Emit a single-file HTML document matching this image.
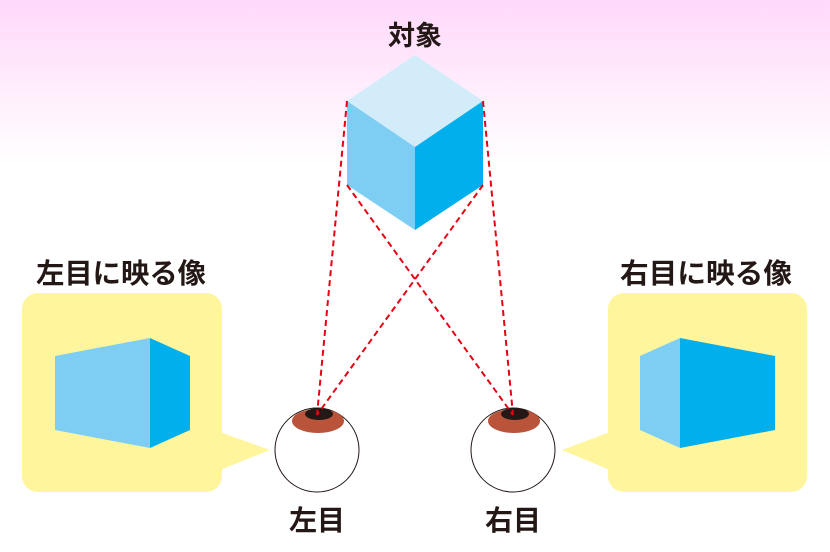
<!DOCTYPE html>
<html><head><meta charset="utf-8"><style>
html,body{margin:0;padding:0;}
body{width:830px;height:552px;overflow:hidden;background:linear-gradient(#ffd8fb 0px,#ffe6fb 60px,#fff 165px,#fff 552px);}
svg{display:block;}
text{font-family:"Liberation Sans","Noto Sans CJK JP",sans-serif;font-weight:bold;fill:#231815;}
</style></head><body>
<svg width="830" height="552" viewBox="0 0 830 552">
<text x="415" y="45" font-size="27" text-anchor="middle">対象</text>
<polygon points="415,55 483,101 415,147 347,101" fill="#d2ecf9"/>
<polygon points="347,101 415,147 415,230 347,185" fill="#7ecef4"/>
<polygon points="415,147 483,101 483,185 415,230" fill="#00afec"/>
<rect x="22" y="293" width="200" height="199" rx="16" fill="#fff59d"/>
<polygon points="220,432 270,450 220,470" fill="#fff59d"/>
<rect x="608" y="293" width="199" height="199" rx="16" fill="#fff59d"/>
<polygon points="610,432 562,450 610,470" fill="#fff59d"/>
<polygon points="55,356 150,338 150,448 55,430" fill="#7ecef4"/>
<polygon points="150,338 190,356 190,430 150,448" fill="#00afec"/>
<polygon points="640,356 680,338 680,448 640,430" fill="#7ecef4"/>
<polygon points="680,338 775,356 775,430 680,448" fill="#00afec"/>
<text x="36" y="283" font-size="28" textLength="170" lengthAdjust="spacingAndGlyphs">左目に映る像</text>
<text x="620" y="283" font-size="28" textLength="172" lengthAdjust="spacingAndGlyphs">右目に映る像</text>
<circle cx="317" cy="450" r="42" fill="#fff" stroke="#231815" stroke-width="1"/>
<circle cx="513" cy="450" r="42" fill="#fff" stroke="#231815" stroke-width="1"/>
<ellipse cx="318" cy="421" rx="26" ry="12" fill="#b9533a"/>
<ellipse cx="514" cy="421" rx="26" ry="12" fill="#b9533a"/>
<ellipse cx="319" cy="414" rx="14" ry="6" fill="#231815"/>
<ellipse cx="515" cy="414" rx="14" ry="6" fill="#231815"/>
<g stroke="#e60012" stroke-width="2" stroke-dasharray="6,4" fill="none">
<line x1="347" y1="101" x2="317" y2="415"/>
<line x1="483" y1="185" x2="317" y2="415"/>
<line x1="347" y1="185" x2="513" y2="415"/>
<line x1="483" y1="101" x2="513" y2="415"/>
</g>
<text x="317" y="530" font-size="28" text-anchor="middle">左目</text>
<text x="513" y="530" font-size="28" text-anchor="middle">右目</text>
</svg>
</body></html>
